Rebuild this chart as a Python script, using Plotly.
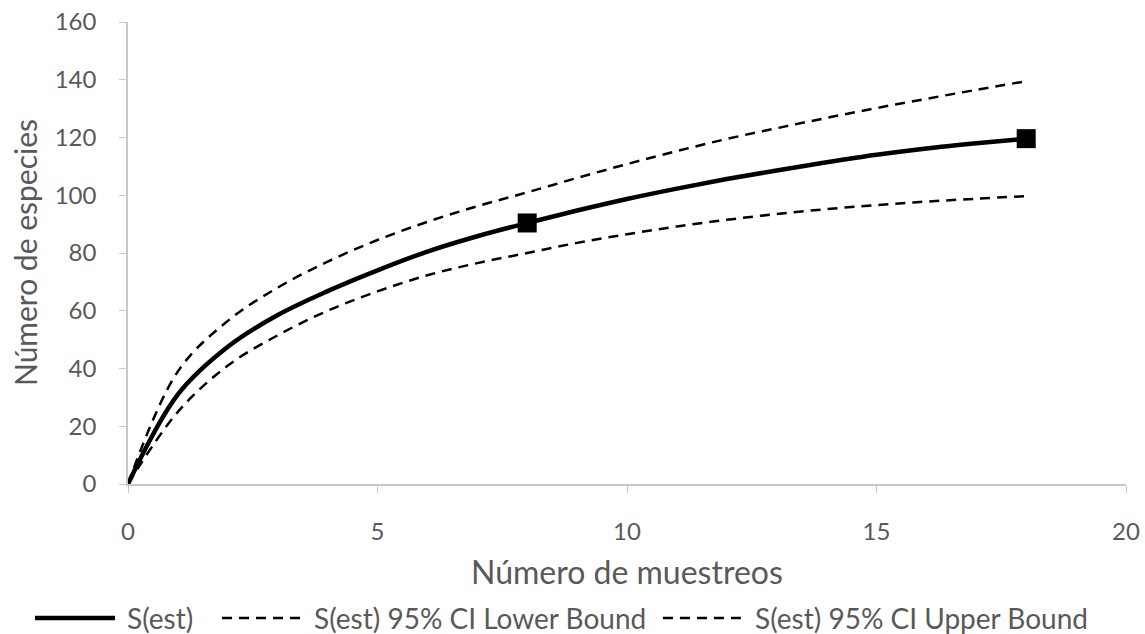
import plotly.graph_objects as go

samples = list(range(0, 19))
s_est = [0, 31, 47.5, 58.5, 66.8, 74.0, 80.5, 85.8, 90.4, 94.7, 98.7, 102.3, 105.6, 108.6, 111.4, 114.0, 116.2, 118.0, 119.6]
lower = [0, 25, 41, 51.5, 60, 66.7, 72.3, 76.5, 80, 83.5, 86.5, 89.2, 91.5, 93.5, 95.2, 96.6, 97.8, 98.8, 99.7]
upper = [0, 39, 56.5, 68, 77, 84.5, 90.8, 96.2, 101, 106, 110.8, 115.3, 119.5, 123.2, 126.8, 130.2, 133.4, 136.5, 139.5]
marker_x = [8, 18]
marker_y = [s_est[8], s_est[18]]
legend_names = ["S(est)", "S(est) 95% CI Lower Bound", "S(est) 95% CI Upper Bound"]
x_title = "Número de muestreos"
y_title = "Número de especies"

FONT = "Lato"
GRAY = "#595959"
AXIS = "#c8c8c8"
DASH = "10px,7px"

fig = go.Figure()
fig.add_trace(go.Scatter(x=samples, y=s_est, mode="lines", name=legend_names[0], showlegend=False,
                         line=dict(color="black", width=4.5, shape="spline", smoothing=1.0)))
fig.add_trace(go.Scatter(x=samples, y=lower, mode="lines", name=legend_names[1], showlegend=False,
                         line=dict(color="black", width=2.5, dash=DASH, shape="spline", smoothing=1.0)))
fig.add_trace(go.Scatter(x=samples, y=upper, mode="lines", name=legend_names[2], showlegend=False,
                         line=dict(color="black", width=2.5, dash=DASH, shape="spline", smoothing=1.0)))
fig.add_trace(go.Scatter(x=marker_x, y=marker_y, mode="markers", showlegend=False,
                         marker=dict(symbol="square", size=19, color="black")))

# custom legend (keys + labels) below the plot, in paper coordinates
ly = -0.290
keys = [(-0.0932, -0.013, 4.5, "solid"), (0.0942, 0.1754, 2.5, DASH), (0.536, 0.618, 2.5, DASH)]
text_x = [-0.003, 0.1844, 0.626]
for (x0, x1, w, d), tx, name in zip(keys, text_x, legend_names):
    fig.add_shape(type="line", xref="paper", yref="paper", x0=x0, x1=x1, y0=ly, y1=ly,
                  line=dict(color="black", width=w, dash=d))
    fig.add_annotation(xref="paper", yref="paper", x=tx, y=ly, text=name, showarrow=False,
                       xanchor="left", yanchor="middle", font=dict(family=FONT, size=28, color=GRAY))

# axis titles
fig.add_annotation(xref="paper", yref="paper", x=0.5, y=-0.190, text=x_title, showarrow=False,
                   xanchor="center", yanchor="middle", font=dict(family=FONT, size=32, color=GRAY))
fig.add_annotation(xref="paper", yref="paper", x=-0.1032, y=0.5, text=y_title, showarrow=False,
                   textangle=-90, xanchor="center", yanchor="middle",
                   font=dict(family=FONT, size=30, color=GRAY))

fig.update_layout(
    width=1145, height=634,
    margin=dict(l=128, r=19, t=22, b=150),
    paper_bgcolor="white", plot_bgcolor="white",
    font=dict(family=FONT, size=24, color=GRAY),
    showlegend=False,
)
fig.update_xaxes(range=[0, 20], tickvals=[0, 5, 10, 15, 20], showgrid=False, zeroline=False,
                 showline=True, linecolor=AXIS, linewidth=1.5, ticks="outside",
                 ticklen=7, tickcolor=AXIS, tickfont=dict(size=24, color=GRAY),
                 ticklabelstandoff=18, automargin=False)
fig.update_yaxes(range=[0, 160], tickvals=list(range(0, 161, 20)), showgrid=False, zeroline=False,
                 showline=True, linecolor=AXIS, linewidth=1.5, ticks="outside",
                 ticklen=7, tickcolor=AXIS, tickfont=dict(size=24, color=GRAY),
                 ticklabelstandoff=18, automargin=False)

fig.write_html("out.html")
